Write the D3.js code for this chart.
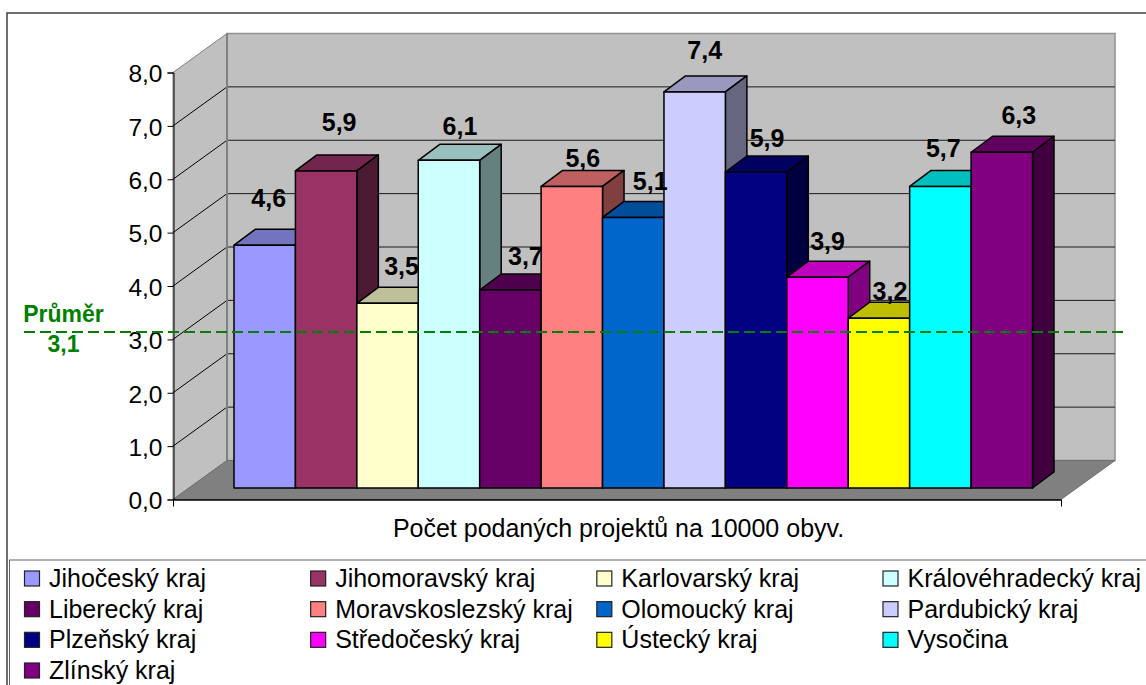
<!DOCTYPE html>
<html><head><meta charset="utf-8">
<script src="https://cdn.jsdelivr.net/npm/d3@7/dist/d3.min.js"></script>
<style>html,body{margin:0;padding:0;background:#fff}svg{display:block}text{font-family:"Liberation Sans",Arial,sans-serif}</style>
</head><body><svg id="c" width="1146" height="685"></svg>
<script>
const categories=["Jihočeský kraj","Jihomoravský kraj","Karlovarský kraj","Královéhradecký kraj","Liberecký kraj","Moravskoslezský kraj","Olomoucký kraj","Pardubický kraj","Plzeňský kraj","Středočeský kraj","Ústecký kraj","Vysočina","Zlínský kraj"];
const values=[4.55,5.94,3.46,6.14,3.71,5.65,5.07,7.42,5.92,3.95,3.18,5.65,6.29];
const valueLabels=["4,6","5,9","3,5","6,1","3,7","5,6","5,1","7,4","5,9","3,9","3,2","5,7","6,3"];
const yTicks=[0,1,2,3,4,5,6,7,8];
const averageLevel=3.14, averageLabel="3,1", averageTitle="Průměr";
const axisTitle="Počet podaných projektů na 10000 obyv.";
const colors=["#9999FF","#993366","#FFFFCC","#CCFFFF","#660066","#FF8080","#0066CC","#CCCCFF","#000080","#FF00FF","#FFFF00","#00FFFF","#800080"];
// label nudges relative to the bar (manually placed in the original)
const labelDx=[4,13,14,11,15,11,17,10,11,10,11,3,17];
const labelDy=[-38,-40,-28,-25,-25,-19,-27,-33,-25,-27,-18,-29,-28.5];

const svg=d3.select("#c");
const fmt=d=>d3.format(".1f")(d).replace(".",",");
const L=173,R=1061,DX=54,DY=39;
const y=d3.scaleLinear().domain([0,8]).range([499.5,72.5]);
const barBase=11.5, bdx=21.5, bdy=16;
const x=d3.scaleBand().domain(categories).range([234,1032.5]);
const poly=(pts,fill,stroke,sw)=>svg.append("polygon").attr("points",pts.map(p=>p.join(",")).join(" ")).attr("fill",fill).attr("stroke",stroke||"none").attr("stroke-width",sw||1);

// frame
svg.append("rect").attr("x",7).attr("y",13).attr("width",1160).attr("height",700).attr("fill","#fff").attr("stroke","#404040").attr("stroke-width",1.5);
svg.append("rect").attr("x",9.5).attr("y",560).attr("width",1160).attr("height",150).attr("fill","#fff").attr("stroke","#606060").attr("stroke-width",1);

// walls
const y0=y(0),y8=y(8);
poly([[L+DX,y8-DY],[R+DX,y8-DY],[R+DX,y0-DY],[L+DX,y0-DY]],"#C0C0C0","#909090",1.5);
poly([[L,y8],[L+DX,y8-DY],[L+DX,y0-DY],[L,y0]],"#C0C0C0","#808080",1);
poly([[L,y0],[L+DX,y0-DY],[R+DX,y0-DY],[R,y0]],"#808080","#707070",1);
yTicks.filter(t=>t>0&&t<8).forEach(t=>{
  svg.append("line").attr("x1",L+DX).attr("x2",R+DX).attr("y1",y(t)-DY).attr("y2",y(t)-DY).attr("stroke","#1a1a1a").attr("stroke-width",1);
  svg.append("line").attr("x1",L).attr("x2",L+DX).attr("y1",y(t)).attr("y2",y(t)-DY).attr("stroke","#000").attr("stroke-width",1);
});
svg.append("line").attr("x1",L+DX).attr("x2",L+DX).attr("y1",y8-DY).attr("y2",y0-DY).attr("stroke","#808080").attr("stroke-width",2);

// axis
const ax=svg.append("g").attr("transform",`translate(${L+.5},0)`).call(d3.axisLeft(y).tickValues(yTicks).tickFormat(fmt).tickSize(6).tickPadding(5));
ax.selectAll("text").attr("font-size",24.5).attr("fill","#000").attr("dy","0.38em").style("font-family",'"Liberation Sans"');
ax.selectAll("line,path").attr("stroke","#000");
svg.append("line").attr("x1",L).attr("x2",R).attr("y1",y0+.5).attr("y2",y0+.5).attr("stroke","#000").attr("stroke-width",1.5);
[L,R].forEach(v=>svg.append("line").attr("x1",v+.5).attr("x2",v+.5).attr("y1",y0).attr("y2",y0+7).attr("stroke","#000"));

// bars
const bar=svg.append("g");
categories.forEach((c,i)=>{
  const col=d3.rgb(colors[i]),x0=x(c),x1=x0+x.bandwidth(),t=y(values[i])-barBase,b=y0-barBase;
  const shade=k=>d3.rgb(col.r*k,col.g*k,col.b*k).formatHex();
  const g=bar.append("g").attr("stroke","#000").attr("stroke-width",1.5).attr("stroke-linejoin","round");
  const P=(pts,f)=>g.append("polygon").attr("points",pts.map(p=>p.join(",")).join(" ")).attr("fill",f);
  P([[x0,t],[x0+bdx,t-bdy],[x1+bdx,t-bdy],[x1,t]],shade(.75));
  P([[x1,t],[x1+bdx,t-bdy],[x1+bdx,b-bdy],[x1,b]],shade(.5));
  P([[x0,t],[x1,t],[x1,b],[x0,b]],shade(1));
});
// labels
svg.append("g").selectAll("text").data(values).join("text")
  .attr("x",(d,i)=>x(categories[i])+x.bandwidth()/2+labelDx[i])
  .attr("y",(d,i)=>y(d)-barBase+labelDy[i])
  .attr("text-anchor","middle").attr("font-size",25).attr("font-weight","bold").attr("fill","#000").text((d,i)=>valueLabels[i]);

// average
svg.append("line").attr("x1",24).attr("x2",1124).attr("y1",y(averageLevel)).attr("y2",y(averageLevel)).attr("stroke","#008000").attr("stroke-width",2).attr("stroke-dasharray","11,5");
svg.append("text").attr("x",63.5).attr("y",322).attr("text-anchor","middle").attr("font-size",23).attr("font-weight","bold").attr("fill","#008000").text(averageTitle);
svg.append("text").attr("x",63.5).attr("y",351.5).attr("text-anchor","middle").attr("font-size",23).attr("font-weight","bold").attr("fill","#008000").text(averageLabel);

// axis title
svg.append("text").attr("x",618.5).attr("y",537).attr("text-anchor","middle").attr("font-size",25).attr("fill","#000").text(axisTitle);

// legend
const colX=d3.scalePoint().domain([0,1,2,3]).range([24.5,883]);
const rowY=d3.scalePoint().domain([0,1,2,3]).range([571,663]);
const lg=svg.append("g").selectAll("g").data(categories).join("g")
  .attr("transform",(d,i)=>`translate(${colX(i%4)},${rowY(Math.floor(i/4))})`);
lg.append("rect").attr("width",15).attr("height",15).attr("fill",(d,i)=>colors[i]).attr("stroke","#222").attr("stroke-width",1.2);
lg.append("text").attr("x",24.5).attr("y",16).attr("font-size",25).attr("fill","#000").text(d=>d);
</script></body></html>
